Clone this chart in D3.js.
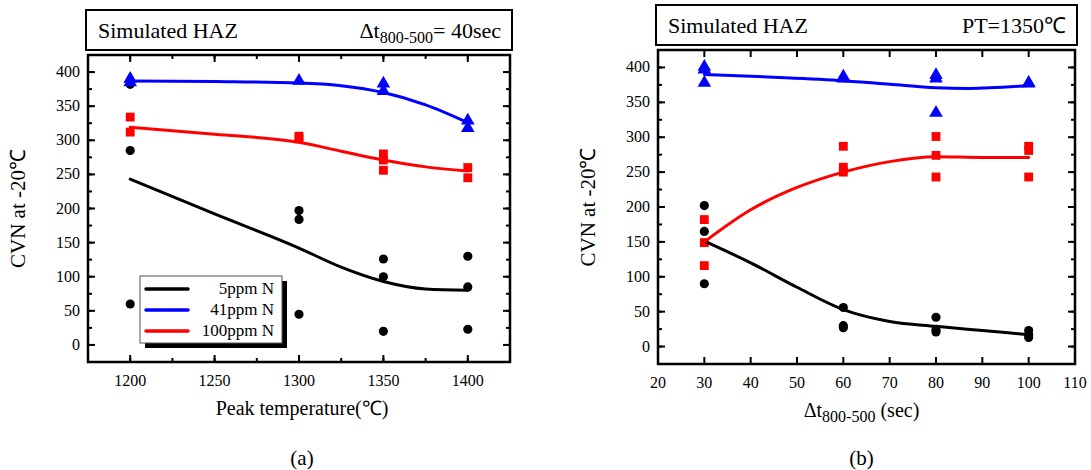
<!DOCTYPE html>
<html>
<head>
<meta charset="utf-8">
<script src="https://cdn.jsdelivr.net/npm/d3@7"></script>
<style>
  body { margin: 0; background: #fff; }
</style>
</head>
<body>
<div id="chart"></div>
<script>
"use strict";

// ---- panel (a): peak temperature, dt = 40 sec ----
var tempTicks = [1200, 1250, 1300, 1350, 1400];
var cvnTicks = [0, 50, 100, 150, 200, 250, 300, 350, 400];

var aPts5 = [[1200, 382], [1200, 285], [1200, 60], [1300, 197], [1300, 184], [1300, 45],
             [1350, 126], [1350, 100], [1350, 20], [1400, 130], [1400, 85], [1400, 23]];
var aPts41 = [[1200, 385], [1200, 390], [1300, 387], [1350, 383], [1350, 372], [1400, 329], [1400, 318]];
var aPts100 = [[1200, 334], [1200, 312], [1300, 306], [1300, 302], [1350, 280], [1350, 271], [1350, 256],
               [1400, 260], [1400, 245]];
var aFit5 = [[1200, 243], [1250, 192], [1300, 142], [1325, 114], [1350, 93], [1375, 82], [1400, 80]];
var aFit41 = [[1200, 387], [1250, 386], [1300, 384], [1325, 380], [1350, 370], [1375, 352], [1400, 326]];
var aFit100 = [[1200, 319], [1250, 309], [1300, 297], [1325, 284], [1350, 271], [1375, 261], [1400, 255]];

// ---- panel (b): cooling time, PT = 1350 C ----
var timeTicks = [20, 30, 40, 50, 60, 70, 80, 90, 100, 110];

var bPts5 = [[30, 202], [30, 165], [30, 90], [60, 56], [60, 30], [60, 27],
             [80, 42], [80, 24], [80, 21], [100, 23], [100, 17], [100, 13]];
var bPts41 = [[30, 401], [30, 397], [30, 378], [60, 387], [60, 384], [80, 389], [80, 384], [80, 335],
              [100, 378], [100, 377]];
var bPts100 = [[30, 182], [30, 149], [30, 116], [60, 287], [60, 257], [60, 250],
               [80, 301], [80, 274], [80, 243], [100, 287], [100, 281], [100, 243]];
var bFit5 = [[30, 151], [40, 120], [50, 85], [60, 53], [70, 36], [80, 29], [90, 23], [100, 17]];
var bFit41 = [[30, 390], [45, 386], [60, 381], [70, 376], [80, 371], [87, 370], [100, 374]];
var bFit100 = [[30, 150], [40, 196], [50, 228], [60, 250], [70, 265], [80, 272], [90, 271], [100, 271]];

var legendNames = ["5ppm N", "41ppm N", "100ppm N"];
var colors = ["#000000", "#0000ff", "#ff0000"];

var svg = d3.select("#chart").append("svg")
  .attr("width", 1091).attr("height", 470)
  .style("font-family", "'Liberation Serif', 'Times New Roman', serif");

function drawPanel(cfg) {
  var x = d3.scaleLinear().domain(cfg.xDomain).range([cfg.left, cfg.right]);
  var y = d3.scaleLinear().domain([-25, 425]).range([cfg.bottom, cfg.top]);
  var g = svg.append("g");

  // title box
  g.append("rect")
    .attr("x", cfg.left - 2).attr("y", cfg.titleTop)
    .attr("width", cfg.right - cfg.left + 4).attr("height", cfg.top - cfg.titleTop - 5)
    .attr("fill", "none").attr("stroke", "#000").attr("stroke-width", 2);
  var tb = cfg.top - 5 - 12;
  g.append("text").attr("x", cfg.left + 10).attr("y", tb)
    .attr("font-size", 22).text("Simulated HAZ");
  cfg.titleRight(g.append("text").attr("x", cfg.right - 9).attr("y", tb)
    .attr("font-size", 22).attr("text-anchor", "end"));

  // ticks: major inward, minor shorter
  var xMinor = cfg.xMinor, yMinor = d3.range(-25, 426, 25);
  function tickLines(vals, horiz, len) {
    vals.forEach(function (v) {
      if (horiz) {
        var px = x(v);
        if (px <= cfg.left + 1 || px >= cfg.right - 1) return;
        g.append("line").attr("x1", px).attr("x2", px).attr("y1", cfg.bottom).attr("y2", cfg.bottom - len)
          .attr("stroke", "#000").attr("stroke-width", 2);
        g.append("line").attr("x1", px).attr("x2", px).attr("y1", cfg.top).attr("y2", cfg.top + len)
          .attr("stroke", "#000").attr("stroke-width", 2);
      } else {
        var py = y(v);
        if (py >= cfg.bottom - 1 || py <= cfg.top + 1) return;
        g.append("line").attr("y1", py).attr("y2", py).attr("x1", cfg.left).attr("x2", cfg.left + len)
          .attr("stroke", "#000").attr("stroke-width", 2);
        g.append("line").attr("y1", py).attr("y2", py).attr("x1", cfg.right).attr("x2", cfg.right - len)
          .attr("stroke", "#000").attr("stroke-width", 2);
      }
    });
  }
  tickLines(xMinor, true, 4);
  tickLines(cfg.xTicks, true, 7);
  tickLines(yMinor, false, 4);
  tickLines(cvnTicks, false, 7);

  // tick labels
  g.selectAll(".xl").data(cfg.xTicks).enter().append("text")
    .attr("x", function (d) { return x(d); }).attr("y", cfg.bottom + 24)
    .attr("text-anchor", "middle").attr("font-size", 16).text(function (d) { return d; });
  g.selectAll(".yl").data(cvnTicks).enter().append("text")
    .attr("x", cfg.left - 8).attr("y", function (d) { return y(d) + 5; })
    .attr("text-anchor", "end").attr("font-size", 16).text(function (d) { return d; });

  // axis titles
  cfg.xTitle(g.append("text").attr("x", (cfg.left + cfg.right) / 2 + cfg.xTitleShift)
    .attr("y", cfg.bottom + 53).attr("text-anchor", "middle").attr("font-size", 20));
  g.append("text")
    .attr("transform", "translate(" + (cfg.left - 63) + "," + ((cfg.top + cfg.bottom) / 2) + ") rotate(-90)")
    .attr("text-anchor", "middle").attr("font-size", 21).text("CVN at -20\u2103");
  g.append("text").attr("x", (cfg.left + cfg.right) / 2 + cfg.xTitleShift).attr("y", 465)
    .attr("text-anchor", "middle").attr("font-size", 21).text(cfg.label);

  // markers
  var sets = [
    { pts: cfg.p5, sym: d3.symbolCircle, size: 66, c: colors[0] },
    { pts: cfg.p100, sym: d3.symbolSquare, size: 78, c: colors[2] },
    { pts: cfg.p41, sym: d3.symbolTriangle, size: 80, c: colors[1] }
  ];
  sets.forEach(function (s) {
    g.selectAll(null).data(s.pts).enter().append("path")
      .attr("d", d3.symbol().type(s.sym).size(s.size))
      .attr("transform", function (d) { return "translate(" + x(d[0]) + "," + y(d[1]) + ")"; })
      .attr("fill", s.c);
  });

  // fitted curves
  var line = d3.line().curve(d3.curveMonotoneX)
    .x(function (d) { return x(d[0]); }).y(function (d) { return y(d[1]); });
  [cfg.f5, cfg.f41, cfg.f100].forEach(function (f, i) {
    g.append("path").attr("d", line(f)).attr("fill", "none")
      .attr("stroke", colors[i]).attr("stroke-width", 3).attr("stroke-linecap", "round");
  });

  // frame
  g.append("rect").attr("x", cfg.left).attr("y", cfg.top)
    .attr("width", cfg.right - cfg.left).attr("height", cfg.bottom - cfg.top)
    .attr("fill", "none").attr("stroke", "#000").attr("stroke-width", 2.5);

  return g;
}

var gA = drawPanel({
  left: 88, right: 510, top: 55, bottom: 362, titleTop: 10,
  xDomain: [1175, 1425], xTicks: tempTicks, xMinor: d3.range(1175, 1426, 25),
  p5: aPts5, p41: aPts41, p100: aPts100, f5: aFit5, f41: aFit41, f100: aFit100,
  xTitleShift: 3, label: "(a)",
  titleRight: function (t) {
    t.append("tspan").text("\u0394t");
    t.append("tspan").attr("font-size", 16).attr("dy", 5).text("800-500");
    t.append("tspan").attr("dy", -5).text("= 40sec");
  },
  xTitle: function (t) { t.text("Peak temperature(\u2103)"); }
});

drawPanel({
  left: 658, right: 1075, top: 50, bottom: 364, titleTop: 5,
  xDomain: [20, 110], xTicks: timeTicks, xMinor: [],
  p5: bPts5, p41: bPts41, p100: bPts100, f5: bFit5, f41: bFit41, f100: bFit100,
  xTitleShift: -5, label: "(b)",
  titleRight: function (t) { t.text("PT=1350\u2103"); },
  xTitle: function (t) {
    t.append("tspan").text("\u0394t");
    t.append("tspan").attr("font-size", 16).attr("dy", 5).text("800-500");
    t.append("tspan").attr("dy", -5).text(" (sec)");
  }
});

// legend in panel (a), with drop shadow
var lg = gA.append("g").attr("transform", "translate(140,276)");
lg.append("rect").attr("x", 5).attr("y", 5).attr("width", 142).attr("height", 67).attr("fill", "#000");
lg.append("rect").attr("width", 142).attr("height", 67).attr("fill", "#fff")
  .attr("stroke", "#555").attr("stroke-width", 1);
legendNames.forEach(function (n, i) {
  var yy = 13 + i * 21;
  lg.append("line").attr("x1", 6).attr("x2", 48).attr("y1", yy).attr("y2", yy)
    .attr("stroke", colors[i]).attr("stroke-width", 3.5).attr("stroke-linecap", "round");
  lg.append("text").attr("x", 134).attr("y", yy + 5).attr("text-anchor", "end")
    .attr("font-size", 17).text(n);
});
</script>
</body>
</html>
